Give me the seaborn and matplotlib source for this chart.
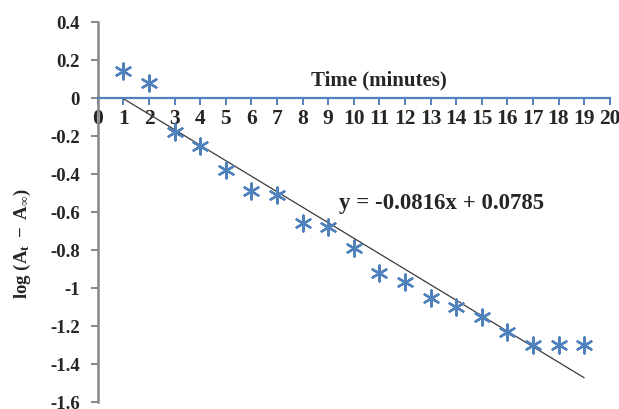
import matplotlib.pyplot as plt
import pandas as pd
import seaborn as sns

# readings
time_min = list(range(1, 20))
log_abs = [0.14, 0.08, -0.18, -0.25, -0.38, -0.49, -0.51, -0.66, -0.68, -0.79,
           -0.92, -0.97, -1.05, -1.10, -1.15, -1.23, -1.30, -1.30, -1.30]
fit_slope = -0.0816
fit_intercept = 0.0785
fit_range = [1, 19]
x_ticks = list(range(0, 21))
y_ticks = [0.4, 0.2, 0, -0.2, -0.4, -0.6, -0.8, -1, -1.2, -1.4, -1.6]
y_tick_labels = ["0.4", "0.2", "0", "-0.2", "-0.4", "-0.6", "-0.8", "-1", "-1.2", "-1.4", "-1.6"]

BLUE = "#4F81BD"
GREY = "#868686"


def main():
    sns.set_theme(style="white")
    plt.rcParams["font.family"] = ["Liberation Serif", "DejaVu Serif"]
    plt.rcParams["font.weight"] = "bold"
    plt.rcParams["mathtext.fontset"] = "custom"
    plt.rcParams["mathtext.rm"] = "Liberation Serif"
    plt.rcParams["mathtext.bf"] = "Liberation Serif:bold"
    plt.rcParams["mathtext.it"] = "Liberation Serif:italic"

    df = pd.DataFrame({"time": time_min, "value": log_abs})
    fit_df = pd.DataFrame({"time": fit_range,
                           "value": [fit_slope * t + fit_intercept for t in fit_range]})

    fig = plt.figure(figsize=(6.19, 4.09), dpi=100)
    ax = fig.add_axes([0.158, 0.017, 0.827, 0.929])

    sns.lineplot(data=fit_df, x="time", y="value", color="#3a3a3a", linewidth=0.9, ax=ax)
    sns.scatterplot(data=df, x="time", y="value", marker=(6, 2, 0), s=130,
                    color=BLUE, linewidth=1.7, ax=ax, zorder=3)

    ax.set_xlim(0, 20)
    ax.set_ylim(-1.6, 0.4)

    ax.spines["top"].set_visible(False)
    ax.spines["right"].set_visible(False)
    ax.spines["bottom"].set_position(("data", 0))
    ax.spines["bottom"].set_color(BLUE)
    ax.spines["bottom"].set_linewidth(1.6)
    ax.spines["left"].set_color(GREY)
    ax.spines["left"].set_linewidth(1.8)

    ax.set_xticks(x_ticks)
    ax.set_xticklabels([str(t) for t in x_ticks], fontsize=15.5, fontweight="bold")
    ax.set_yticks(y_ticks)
    ax.set_yticklabels(y_tick_labels, fontsize=13.5, fontweight="bold")
    ax.tick_params(axis="x", bottom=True, direction="out", length=5, width=1.4,
                   color=BLUE, pad=3)
    ax.tick_params(axis="y", left=True, direction="out", length=5, width=1.4,
                   color=GREY, pad=8)

    ax.set_xlabel("")
    ax.set_ylabel(r"$\mathbf{log\ (A_t\ -\ A_{\infty})}$", fontsize=13.5)
    ax.yaxis.set_label_coords(-0.127, 0.416)

    ax.text(11.0, 0.095, "Time (minutes)", fontsize=15, fontweight="bold",
            ha="center", va="center")
    ax.text(13.44, -0.553, "y = -0.0816x + 0.0785", fontsize=16.5, fontweight="bold",
            ha="center", va="center")

    fig.savefig("out.png", dpi=100)
    plt.close(fig)


if __name__ == "__main__":
    main()
